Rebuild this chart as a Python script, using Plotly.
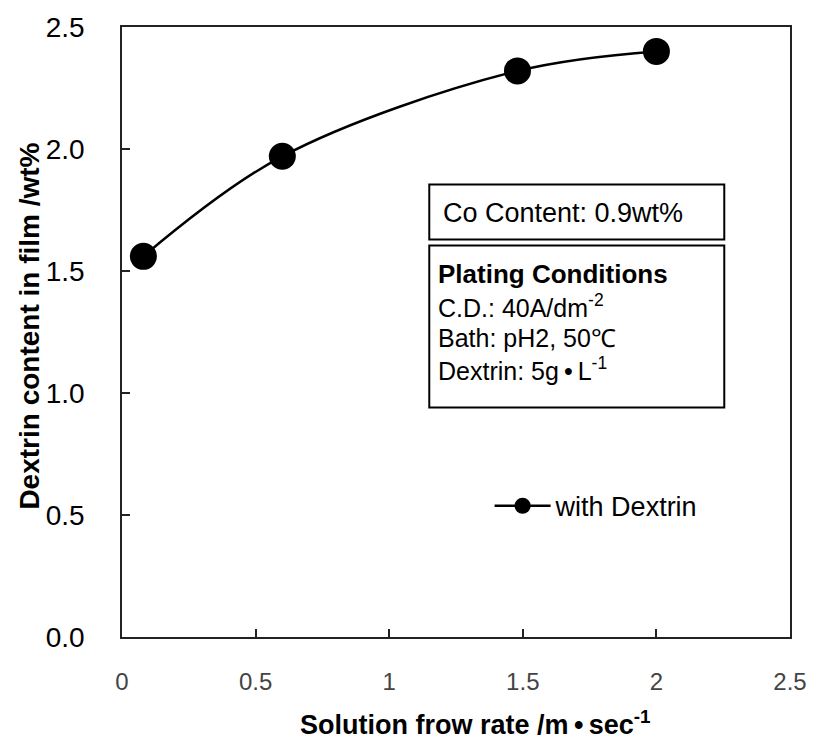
import plotly.graph_objects as go

# Solution flow rate (m/s) and dextrin content in the deposited film (wt%)
flow_rate = [0.08, 0.60, 1.48, 2.00]
dextrin_wt = [1.56, 1.97, 2.32, 2.40]
series_name = "with Dextrin"

x_ticks = [0, 0.5, 1, 1.5, 2, 2.5]
x_tick_text = ["0", "0.5", "1", "1.5", "2", "2.5"]
y_ticks = [0.0, 0.5, 1.0, 1.5, 2.0, 2.5]
y_tick_text = ["0.0", "0.5", "1.0", "1.5", "2.0", "2.5"]

DOT = "\u2009\u2022\u2009"
co_note = "Co Content: 0.9wt%"
cond_title = "Plating Conditions"
cond_lines = ["C.D.: 40A/dm<sup>-2</sup>", "Bath: pH2, 50℃", "Dextrin: 5g" + DOT + "L<sup>-1</sup>"]
x_title = "Solution frow rate /m" + DOT + "sec<sup>-1</sup>"
y_title = "Dextrin content in film /wt%"

FONT = "Liberation Sans, Arial, sans-serif"

fig = go.Figure()
fig.add_trace(go.Scatter(
    x=flow_rate, y=dextrin_wt, name=series_name,
    mode="lines+markers",
    line=dict(color="black", width=2.5, shape="spline", smoothing=1.0),
    marker=dict(color="black", size=27),
))

# framed note boxes (data coordinates)
fig.add_shape(type="rect", xref="x", yref="y", x0=1.15, x1=2.254, y0=1.629, y1=1.855,
              line=dict(color="black", width=2), fillcolor="white", layer="below")
fig.add_shape(type="rect", xref="x", yref="y", x0=1.15, x1=2.254, y0=0.941, y1=1.605,
              line=dict(color="black", width=2), fillcolor="white", layer="below")

ann = []
ann.append(dict(x=1.195, y=1.738, xref="x", yref="y", text=co_note, showarrow=False,
                xanchor="left", yanchor="middle", font=dict(family=FONT, size=27, color="black")))
ann.append(dict(x=1.175, y=1.488, xref="x", yref="y", text="<b>" + cond_title + "</b>",
                showarrow=False, xanchor="left", yanchor="middle",
                font=dict(family=FONT, size=26, color="black")))
line_y = [1.355, 1.226, 1.100]
for t, yy in zip(cond_lines, line_y):
    ann.append(dict(x=1.175, y=yy, xref="x", yref="y", text=t, showarrow=False,
                    xanchor="left", yanchor="middle",
                    font=dict(family=FONT, size=25, color="black")))

# axis titles
ann.append(dict(x=(480 - 122) / 676, y=-(723 - 637) / 611, xref="paper", yref="paper",
                text="<b>" + x_title + "</b>", showarrow=False,
                xanchor="center", yanchor="middle",
                font=dict(family=FONT, size=27, color="black")))
ann.append(dict(x=-(122 - 28) / 676, y=(637 - 326) / 611, xref="paper", yref="paper",
                text="<b>" + y_title + "</b>", showarrow=False, textangle=-90,
                xanchor="center", yanchor="middle",
                font=dict(family=FONT, size=28, color="black")))

fig.update_layout(
    width=819, height=742,
    margin=dict(l=122, r=21, t=26, b=105),
    paper_bgcolor="white", plot_bgcolor="white",
    font=dict(family=FONT, color="black"),
    annotations=ann,
    showlegend=True,
    legend=dict(x=(494 - 122) / 676, y=(637 - 506) / 611, xanchor="left", yanchor="middle",
                bgcolor="rgba(0,0,0,0)", font=dict(family=FONT, size=27, color="black"),
                itemwidth=56),
    xaxis=dict(range=[0, 2.5], tickvals=x_ticks, ticktext=x_tick_text,
               showgrid=False, zeroline=False, showline=True, linecolor="#222", linewidth=1.5,
               mirror=True, ticks="inside", ticklen=8, tickcolor="#222", tickwidth=1.5,
               ticklabelstandoff=22,
               tickfont=dict(family=FONT, size=24, color="#444")),
    yaxis=dict(range=[0, 2.5], tickvals=y_ticks, ticktext=y_tick_text,
               showgrid=False, zeroline=False, showline=True, linecolor="#222", linewidth=1.5,
               mirror=True, ticks="inside", ticklen=8, tickcolor="#222", tickwidth=1.5,
               ticklabelstandoff=30,
               tickfont=dict(family=FONT, size=28, color="black")),
)

fig.write_html("out.html")
